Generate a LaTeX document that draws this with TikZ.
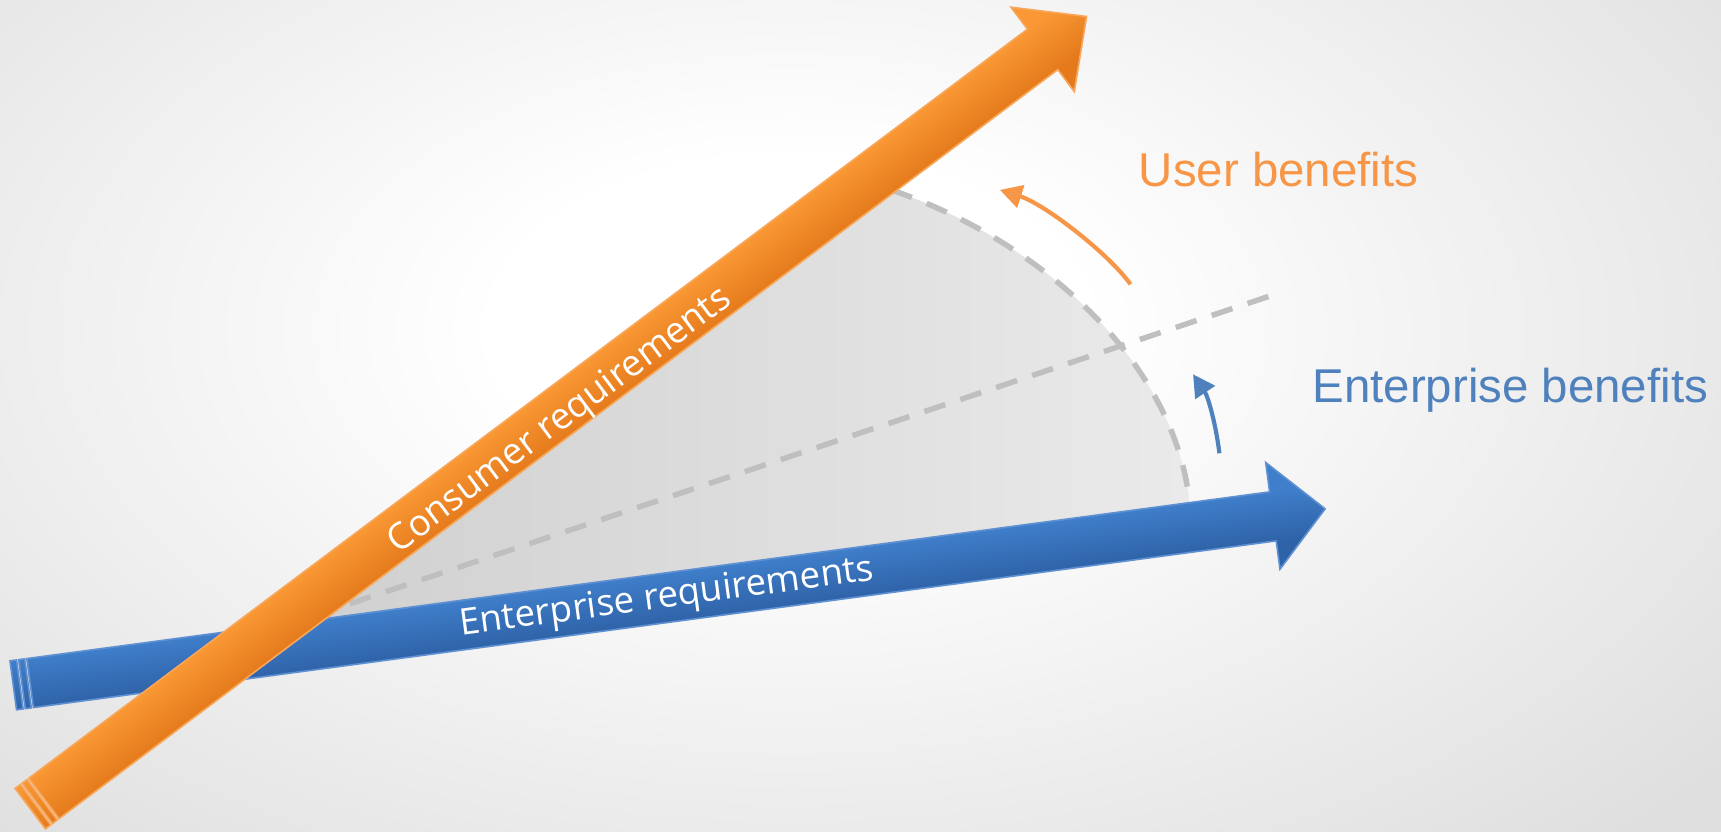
\documentclass[tikz,border=0pt]{standalone}
\usepackage{fontspec}
\setmainfont{Liberation Sans}
\newfontfamily\osans{Open Sans}
\usetikzlibrary{arrows.meta}
\definecolor{olight}{RGB}{249,152,52}
\definecolor{odark}{RGB}{229,122,28}
\definecolor{oborder}{RGB}{247,166,90}
\definecolor{blight}{RGB}{63,126,202}
\definecolor{bdark}{RGB}{47,99,168}
\definecolor{bborder}{RGB}{95,145,210}
\definecolor{otext}{RGB}{247,150,70}
\definecolor{btext}{RGB}{79,129,189}
\definecolor{dashgray}{RGB}{191,191,191}
\definecolor{wedgeL}{RGB}{208,208,208}
\definecolor{wedgeR}{RGB}{234,234,234}
\definecolor{bgout}{RGB}{222,222,222}
\pgfdeclareverticalshading{oshade}{100bp}{color(0bp)=(odark); color(38bp)=(odark); color(62bp)=(olight); color(100bp)=(olight)}
\pgfdeclareverticalshading{bshade}{100bp}{color(0bp)=(bdark); color(38.3bp)=(bdark); color(61.2bp)=(blight); color(100bp)=(blight)}
\pgfdeclareradialshading{bgshade}{\pgfpoint{0bp}{0bp}}{color(0bp)=(white); color(6bp)=(white); color(25bp)=(bgout); color(50bp)=(bgout)}
\begin{document}
\begin{tikzpicture}[x=0.1mm,y=-0.1mm,
  dashline/.style={draw=dashgray, line width=0.5mm, dash pattern=on 2mm off 1.45mm},
  ocurve/.style={draw=otext, line width=0.38mm, -{Triangle[length=2mm,width=2.1mm]}},
  bcurve/.style={draw=btext, line width=0.38mm, -{Triangle[length=2mm,width=2.1mm]}},
  arrowlabel/.style={font=\osans\fontsize{9.5}{11}\selectfont, text=white, inner sep=0pt, anchor=base},
  benefit/.style={font=\fontsize{12.3}{14}\selectfont, inner sep=0pt, anchor=base},
  obar/.style={top color=olight, bottom color=odark, draw=oborder, line width=0.15mm},
  bbar/.style={top color=blight, bottom color=bdark, draw=bborder, line width=0.15mm}]
\useasboundingbox (0,0) rectangle (1568,758);
% background
\begin{scope}
\clip (0,0) rectangle (1568,758);
\shade[shading=bgshade] (-400,-350) rectangle (1840,950);
\end{scope}
% wedge
\coordinate (apex) at (284,568);
\coordinate (arcA) at (812,173);
\coordinate (arcB) at (1084,460);
\shade[left color=wedgeL, right color=wedgeR] (apex) -- (arcA) .. controls (955,222) and (1072,335) .. (arcB) -- cycle;
\draw[dashline] (arcA) .. controls (955,222) and (1072,335) .. (arcB);
\coordinate (midA) at (286,561);
\coordinate (midB) at (1165,267);
\draw[dashline] (midA) -- (midB);
% blue arrow
\begin{scope}[transform canvas={rotate=7.64}]
 \shade[shading=bshade, draw=bborder, line width=0.15mm] (-55.5,598) -- (1087,598) -- (1087,571) -- (1135,620) -- (1087,669) -- (1087,643) -- (-55.5,643) -- cycle;
 \path[bbar] (-71,598) rectangle (-65,643);
 \path[bbar] (-63,598) rectangle (-57.5,643);
\end{scope}
% orange arrow
\begin{scope}[transform canvas={rotate=36.87}]
 \shade[shading=oshade, draw=oborder, line width=0.15mm] (-404.5,583) -- (733,583) -- (733,558) -- (783,606) -- (733,654) -- (733,629) -- (-404.5,629) -- cycle;
 \path[obar] (-420,583) rectangle (-414,629);
 \path[obar] (-412,583) rectangle (-406.5,629);
\end{scope}
% labels on arrows
\node[arrowlabel, rotate=7.64] (ereq) at (608.5,553.5) {Enterprise requirements};
\node[arrowlabel, rotate=36.87] (creq) at (515.5,390.5) {Consumer requirements};
% curved arrows
\coordinate (ub1) at (1030,259);
\coordinate (ub2) at (911,173);
\draw[ocurve] (ub1) .. controls (1010,231) and (952,186) .. (ub2);
\coordinate (eb1) at (1111,413);
\coordinate (eb2) at (1087,341);
\draw[bcurve] (eb1) .. controls (1108,388) and (1101,362) .. (eb2);
% benefit labels
\node[benefit, text=otext] (ub) at (1165,170) {User benefits};
\node[benefit, text=btext] (eb) at (1376,366.5) {Enterprise benefits};
\end{tikzpicture}
\end{document}
